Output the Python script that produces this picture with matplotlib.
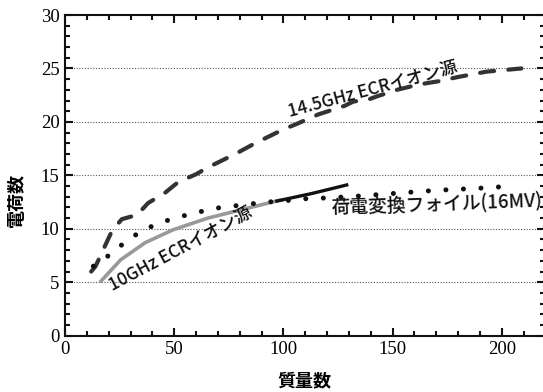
import matplotlib
matplotlib.use("Agg")
import matplotlib.pyplot as plt
from matplotlib.ticker import MultipleLocator

# --- data ---
ecr145_x = [12, 14, 21.5, 26, 33, 38, 46, 52, 60, 65, 73, 78, 87, 92, 100, 106,
            116, 128, 132, 139, 143, 152, 158, 165, 171, 180, 193, 209]
ecr145_y = [6.0, 6.5, 9.8, 10.9, 11.3, 12.4, 13.4, 14.4, 15.1, 15.7, 16.5, 17.0, 18.0, 18.5,
            19.3, 19.8, 20.7, 21.5, 21.9, 22.1, 22.4, 23.0, 23.3, 23.6, 23.8, 24.2, 24.7, 25.0]

foil_x = [13, 20, 29, 36, 44, 52, 60, 68, 76, 84, 92, 100, 108, 116, 130, 150, 170, 190, 205]
foil_y = [6.5, 7.5, 9.0, 9.9, 10.6, 11.1, 11.5, 11.9, 12.1, 12.3, 12.5, 12.6, 12.8, 12.85,
          13.0, 13.3, 13.6, 13.8, 14.0]

ecr10_x = [16, 25.5, 36.7, 49.4, 65.4, 81, 97, 100]
ecr10_y = [5.0, 7.1, 8.7, 9.9, 11.0, 11.8, 12.6, 12.7]

ecr10_ext_x = [97, 113, 129]
ecr10_ext_y = [12.6, 13.3, 14.1]

x_ticks = [0, 50, 100, 150, 200]
y_ticks = [0, 5, 10, 15, 20, 25, 30]
grid_y = [5, 10, 15, 20, 25]

label_145 = "14.5GHz ECRイオン源"
label_10 = "10GHz ECRイオン源"
label_foil = "荷電変換フォイル(16MV)"
xlabel = "質量数"
ylabel = "電荷数"

cjk = ["Noto Sans CJK JP", "DejaVu Sans"]

fig = plt.figure(figsize=(5.43, 3.92), dpi=100)
ax = fig.add_axes([65 / 543, 1 - 335.7 / 392, 480 / 543, (335.7 - 15) / 392])

ax.set_xlim(0, 219.8)
ax.set_ylim(0, 30)

for gy in grid_y:
    ax.axhline(gy, color="#555555", lw=0.8, ls=(0, (1, 1.5)), zorder=1)

ax.plot(ecr145_x, ecr145_y, color="#333333", lw=3.0, dashes=(3.4, 3.4),
        dash_capstyle="round", zorder=3)
ax.plot(foil_x, foil_y, color="#111111", lw=3.6, dashes=(0.01, 3.5),
        dash_capstyle="round", zorder=3)
ax.plot(ecr10_x, ecr10_y, color="#999999", lw=2.6, solid_capstyle="butt", zorder=2)
ax.plot(ecr10_ext_x, ecr10_ext_y, color="#111111", lw=2.4, zorder=2)

ax.text(141, 23.0, label_145, family=cjk, fontsize=12.5, fontweight="medium", rotation=15,
        ha="center", va="center", color="#111111")
ax.text(53, 8.1, label_10, family=cjk, fontsize=12.5, fontweight="medium", rotation=28,
        ha="center", va="center", color="#111111")
ax.text(170, 12.4, label_foil, family=cjk, fontsize=13.5, fontweight="medium", rotation=2,
        ha="center", va="center", color="#111111")

ax.set_xticks(x_ticks)
ax.set_yticks(y_ticks)
ax.xaxis.set_minor_locator(MultipleLocator(10))
ax.yaxis.set_minor_locator(MultipleLocator(1))
ax.tick_params(which="both", direction="in", top=True, right=True, width=1.5, color="#111111")
ax.tick_params(which="major", length=6)
ax.tick_params(which="minor", length=3.5)
ax.tick_params(axis="both", labelsize=13.5, pad=4)
for lab in ax.get_xticklabels() + ax.get_yticklabels():
    lab.set_family("Liberation Serif")

for s in ax.spines.values():
    s.set_linewidth(1.5)
    s.set_color("#111111")

fig.text(304 / 543, 1 - 381 / 392, xlabel, family=cjk, fontsize=13, fontweight="bold",
         ha="center", va="center")
fig.text(16 / 543, 1 - 200 / 392, ylabel, family=cjk, fontsize=13, fontweight="bold",
         ha="center", va="center", rotation=90)

fig.savefig("out.png", dpi=100)
